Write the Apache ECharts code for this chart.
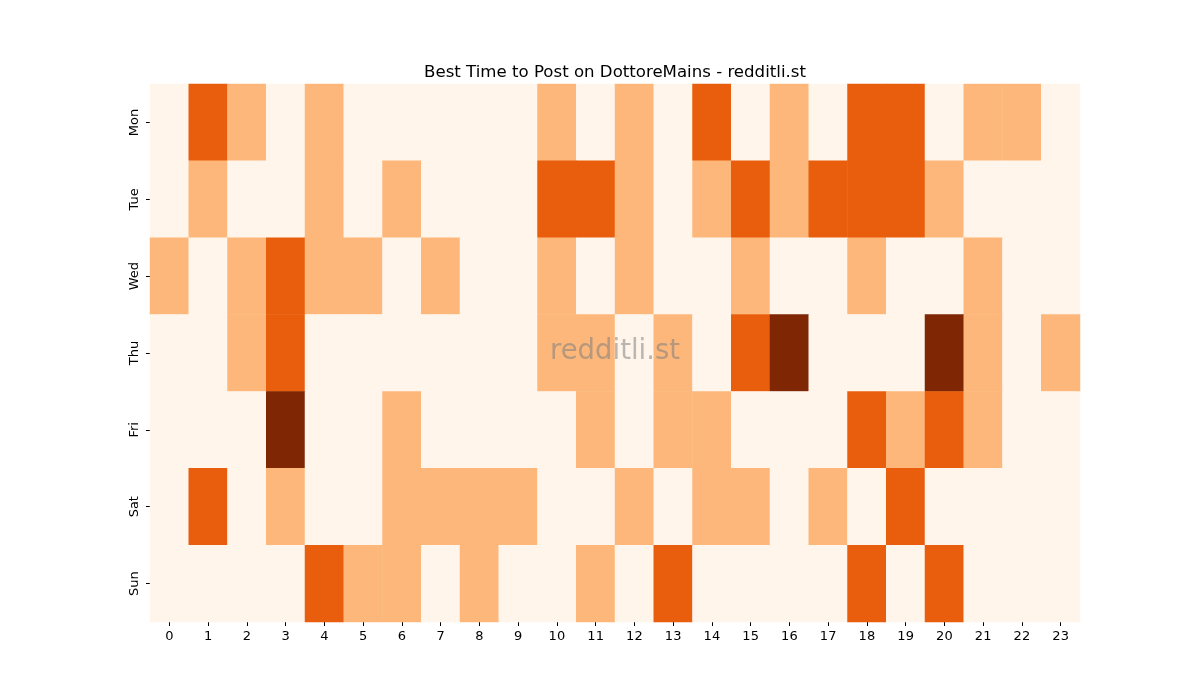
<!DOCTYPE html>
<html>
<head>
<meta charset="utf-8">
<script src="https://cdn.jsdelivr.net/npm/echarts@6/dist/echarts.min.js"></script>
<style>
  html, body { margin: 0; padding: 0; background: #ffffff; }
  #chart { width: 1200px; height: 700px; }
</style>
</head>
<body>
<div id="chart"></div>
<script>
  // hours on x, days on y
  const hours = ['0','1','2','3','4','5','6','7','8','9','10','11','12','13','14','15','16','17','18','19','20','21','22','23']
  const days = ['Mon','Tue','Wed','Thu','Fri','Sat','Sun']

  // activity level per hour (0..3)
  const mon = [0,2,1,0,1,0,0,0,0,0,1,0,1,0,2,0,1,0,2,2,0,1,1,0]
  const tue = [0,1,0,0,1,0,1,0,0,0,2,2,1,0,1,2,1,2,2,2,1,0,0,0]
  const wed = [1,0,1,2,1,1,0,1,0,0,1,0,1,0,0,1,0,0,1,0,0,1,0,0]
  const thu = [0,0,1,2,0,0,0,0,0,0,1,1,0,1,0,2,3,0,0,0,3,1,0,1]
  const fri = [0,0,0,3,0,0,1,0,0,0,0,1,0,1,1,0,0,0,2,1,2,1,0,0]
  const sat = [0,2,0,1,0,0,1,1,1,1,0,0,1,0,1,1,0,1,0,2,0,0,0,0]
  const sun = [0,0,0,0,2,1,1,0,1,0,0,1,0,2,0,0,0,0,2,0,2,0,0,0]

  const levelColors = ['#fff5eb', '#fdb77a', '#e95e0d', '#7f2704']

  let rows = [mon, tue, wed, thu, fri, sat, sun]
  let cells = []
  for (let d = 0; d < rows.length; d++) {
    for (let h = 0; h < rows[d].length; h++) {
      cells.push([h, d, rows[d][h]])
    }
  }

  let myChart = echarts.init(document.getElementById('chart'))
  let option = {
    backgroundColor: '#ffffff',
    textStyle: { fontFamily: 'DejaVu Sans' },
    title: {
      text: 'Best Time to Post on DottoreMains - redditli.st',
      left: 610,
      top: 59,
      textAlign: 'center',
      textStyle: { fontFamily: 'DejaVu Sans', fontSize: 16.6, fontWeight: 'normal', color: '#000' }
    },
    grid: { left: 150, right: 120, top: 84, bottom: 78 },
    xAxis: {
      type: 'category',
      data: hours,
      axisLine: { show: false },
      axisTick: { show: true, alignWithLabel: true, length: 4, lineStyle: { color: '#000' } },
      axisLabel: { color: '#000', fontSize: 13, margin: 8 },
      splitLine: { show: false }
    },
    yAxis: {
      type: 'category',
      data: days,
      inverse: true,
      axisLine: { show: false },
      axisTick: { show: true, alignWithLabel: true, length: 4, lineStyle: { color: '#000' } },
      axisLabel: { color: '#000', fontSize: 13, rotate: 90, margin: 9 },
      splitLine: { show: false }
    },
    visualMap: {
      show: false,
      type: 'piecewise',
      dimension: 2,
      pieces: [
        { value: 0, color: levelColors[0] },
        { value: 1, color: levelColors[1] },
        { value: 2, color: levelColors[2] },
        { value: 3, color: levelColors[3] }
      ]
    },
    graphic: [
      {
        type: 'text',
        left: 550,
        top: 338,
        z: 100,
        style: {
          text: 'redditli.st',
          font: '27.5px DejaVu Sans',
          fill: 'rgba(128,128,128,0.55)'
        }
      }
    ],
    series: [
      {
        type: 'heatmap',
        data: cells,
        itemStyle: { borderWidth: 0 },
        emphasis: { disabled: true }
      }
    ]
  }
  myChart.setOption(option)
</script>
</body>
</html>
